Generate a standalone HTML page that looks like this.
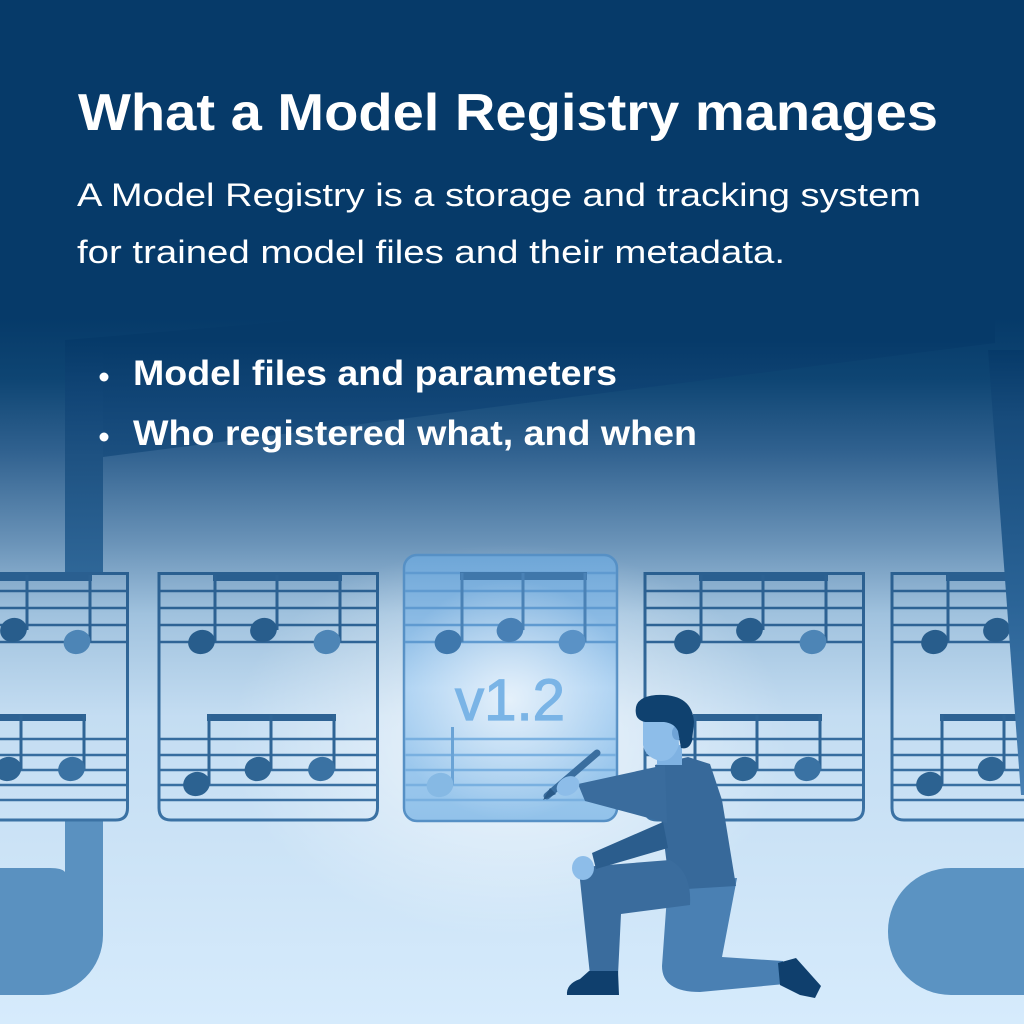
<!DOCTYPE html>
<html>
<head>
<meta charset="utf-8">
<style>
html,body{margin:0;padding:0;background:#063a69;}
svg{display:block;}
</style>
</head>
<body>
<svg width="1024" height="1024" viewBox="0 0 1024 1024" xmlns="http://www.w3.org/2000/svg">
<defs>
  <linearGradient id="bg" x1="0" y1="0" x2="0" y2="1024" gradientUnits="userSpaceOnUse">
    <stop offset="0" stop-color="#063a69"/>
    <stop offset="0.31" stop-color="#063a69"/>
    <stop offset="0.37" stop-color="#0e4573"/>
    <stop offset="0.44" stop-color="#30618f"/>
    <stop offset="0.53" stop-color="#6a93b8"/>
    <stop offset="0.60" stop-color="#a0c2de"/>
    <stop offset="0.70" stop-color="#c4ddf2"/>
    <stop offset="1" stop-color="#d6ebfc"/>
  </linearGradient>
  <radialGradient id="glow" cx="510" cy="740" r="280" gradientUnits="userSpaceOnUse" gradientTransform="translate(510 740) scale(1 0.7) translate(-510 -740)">
    <stop offset="0" stop-color="#ffffff" stop-opacity="0.75"/>
    <stop offset="0.5" stop-color="#ffffff" stop-opacity="0.35"/>
    <stop offset="1" stop-color="#ffffff" stop-opacity="0"/>
  </radialGradient>
  <linearGradient id="beam" x1="0" y1="340" x2="0" y2="470" gradientUnits="userSpaceOnUse">
    <stop offset="0" stop-color="#063a69"/>
    <stop offset="0.5" stop-color="#124677"/>
    <stop offset="1" stop-color="#1e5282"/>
  </linearGradient>
  <linearGradient id="stemL" x1="0" y1="340" x2="0" y2="575" gradientUnits="userSpaceOnUse">
    <stop offset="0" stop-color="#063a69"/>
    <stop offset="0.25" stop-color="#124677"/>
    <stop offset="0.5" stop-color="#1e5282"/>
    <stop offset="1" stop-color="#2f6798"/>
  </linearGradient>
  <linearGradient id="stemR" x1="0" y1="350" x2="0" y2="800" gradientUnits="userSpaceOnUse">
    <stop offset="0" stop-color="#063a69"/>
    <stop offset="0.15" stop-color="#174b7b"/>
    <stop offset="0.55" stop-color="#2a6396"/>
    <stop offset="1" stop-color="#4a82b5"/>
  </linearGradient>
  <linearGradient id="lg" x1="0" y1="570" x2="0" y2="822" gradientUnits="userSpaceOnUse">
    <stop offset="0" stop-color="#2a5f90"/>
    <stop offset="1" stop-color="#3b72a4"/>
  </linearGradient>
  <linearGradient id="cfill" x1="0" y1="555" x2="0" y2="821" gradientUnits="userSpaceOnUse">
    <stop offset="0" stop-color="#6ea6d7"/>
    <stop offset="0.5" stop-color="#a9d0f2"/>
    <stop offset="1" stop-color="#92c2ea"/>
  </linearGradient>
  <radialGradient id="cglow" cx="510" cy="700" r="120" gradientUnits="userSpaceOnUse">
    <stop offset="0" stop-color="#ffffff" stop-opacity="0.7"/>
    <stop offset="1" stop-color="#ffffff" stop-opacity="0"/>
  </radialGradient>

  <g id="card">
    <path d="M159,573.5 H377.5 V808 Q377.5 820 365.5 820 H171 Q159 820 159 808 Z" fill="none" stroke="url(#lg)" stroke-width="3"/>
    <g stroke="url(#lg)" stroke-width="2.6">
      <line x1="159" y1="591" x2="377.5" y2="591"/>
      <line x1="159" y1="608" x2="377.5" y2="608"/>
      <line x1="159" y1="625" x2="377.5" y2="625"/>
      <line x1="159" y1="642" x2="377.5" y2="642"/>
      <line x1="159" y1="739" x2="377.5" y2="739"/>
      <line x1="159" y1="755" x2="377.5" y2="755"/>
      <line x1="159" y1="770" x2="377.5" y2="770"/>
      <line x1="159" y1="785" x2="377.5" y2="785"/>
      <line x1="159" y1="800" x2="377.5" y2="800"/>
    </g>
    <rect x="213" y="574" width="129" height="7" fill="#2a5f90"/>
    <g stroke="#2c6192" stroke-width="3">
      <line x1="215" y1="575" x2="215" y2="642"/>
      <line x1="277" y1="575" x2="277" y2="630"/>
      <line x1="340" y1="575" x2="340" y2="642"/>
    </g>
    <ellipse cx="201.5" cy="642" rx="13.5" ry="12" fill="#285d8c" transform="rotate(-18 201.5 642)"/>
    <ellipse cx="263.5" cy="630" rx="13.5" ry="12" fill="#285d8c" transform="rotate(-18 263.5 630)"/>
    <ellipse cx="327" cy="642" rx="13.5" ry="12" fill="#4d85b6" transform="rotate(-18 327 642)"/>
    <rect x="207" y="714" width="129" height="7" fill="#2d6293"/>
    <g stroke="#2f6596" stroke-width="3">
      <line x1="209" y1="715" x2="209" y2="784"/>
      <line x1="271" y1="715" x2="271" y2="769"/>
      <line x1="334" y1="715" x2="334" y2="769"/>
    </g>
    <ellipse cx="196.5" cy="784" rx="13.5" ry="12" fill="#2c6291" transform="rotate(-18 196.5 784)"/>
    <ellipse cx="258" cy="769" rx="13.5" ry="12" fill="#2f6594" transform="rotate(-18 258 769)"/>
    <ellipse cx="321.5" cy="769" rx="13.5" ry="12" fill="#3a72a3" transform="rotate(-18 321.5 769)"/>
  </g>
</defs>

<!-- background -->
<rect x="0" y="0" width="1024" height="1024" fill="url(#bg)"/>
<rect x="0" y="0" width="1024" height="1024" fill="url(#glow)"/>

<!-- big background note: beam and stems -->
<polygon points="65,340 995,262 995,343 103,457 65,457" fill="url(#beam)"/>
<rect x="65" y="340" width="38" height="235" fill="url(#stemL)"/>
<path d="M-10,868 H50 Q62,868 65,872 V820 H103 V935 A60 60 0 0 1 43,995 H-10 Z" fill="#5a91c0"/>

<!-- cards -->
<use href="#card" transform="translate(-250 0)"/>
<use href="#card"/>
<use href="#card" transform="translate(486 0)"/>
<use href="#card" transform="translate(733 0)"/>

<!-- right stem & head -->
<polygon points="988,350 1024,350 1024,795 1021,795" fill="url(#stemR)"/>
<rect x="888" y="868" width="220" height="127" rx="63" ry="63" fill="#5b93c2"/>

<!-- center highlighted card -->
<rect x="404" y="555" width="213" height="266" rx="13" ry="13" fill="url(#cfill)" stroke="#5690c5" stroke-width="2.5"/>
<rect x="404" y="555" width="213" height="266" rx="13" ry="13" fill="url(#cglow)"/>
<g stroke="#5f9ad0" stroke-width="2.5">
  <line x1="405" y1="573" x2="616" y2="573"/>
  <line x1="405" y1="591" x2="616" y2="591"/>
  <line x1="405" y1="608" x2="616" y2="608"/>
  <line x1="405" y1="625" x2="616" y2="625"/>
  <line x1="405" y1="642" x2="616" y2="642"/>
</g>
<g stroke="#79b0e0" stroke-width="2.5">
  <line x1="405" y1="739" x2="616" y2="739"/>
  <line x1="405" y1="755" x2="616" y2="755"/>
  <line x1="405" y1="770" x2="616" y2="770"/>
  <line x1="405" y1="785" x2="616" y2="785"/>
  <line x1="405" y1="800" x2="616" y2="800"/>
</g>
<rect x="460" y="572" width="127" height="8" fill="#4077aa"/>
<g stroke="#4a82b6" stroke-width="3">
  <line x1="462" y1="573" x2="462" y2="642"/>
  <line x1="523" y1="573" x2="523" y2="630"/>
  <line x1="585" y1="573" x2="585" y2="642"/>
</g>
<ellipse cx="448" cy="642" rx="13.5" ry="12" fill="#3f78ad" transform="rotate(-18 448 642)"/>
<ellipse cx="510" cy="630" rx="13.5" ry="12" fill="#4880b5" transform="rotate(-18 510 630)"/>
<ellipse cx="572" cy="642" rx="13.5" ry="12" fill="#5a92c6" transform="rotate(-18 572 642)"/>
<line x1="452.5" y1="727" x2="452.5" y2="785" stroke="#6aa3d6" stroke-width="3"/>
<ellipse cx="440" cy="785" rx="13.5" ry="12" fill="#86b9e4" transform="rotate(-18 440 785)"/>
<text x="455" y="720" font-family="Liberation Sans, sans-serif" font-size="58" fill="#7ab4e6" stroke="#7ab4e6" stroke-width="1.2" textLength="110" lengthAdjust="spacingAndGlyphs">v1.2</text>

<!-- person -->
<!-- back leg (kneeling) -->
<path d="M668,882 L737,878 L722,957 L783,961 L785,984 L700,992 Q662,992 662,966 Z" fill="#4a80b3"/>
<!-- back foot -->
<path d="M778,963 L796,958 L821,986 L815,998 L800,995 L780,985 Z" fill="#0f3f6d"/>
<!-- torso -->
<path d="M655,765 L688,757 L710,764 L722,800 L736,886 L670,890 L662,825 Z" fill="#37699a"/>
<!-- front leg thigh + shin -->
<path d="M580,880 Q582,868 595,866 L670,860 Q692,872 690,905 L621,914 L618,975 L590,975 Z" fill="#3a6c9d"/>
<!-- front shoe -->
<path d="M589,971 L618,971 L619,995 L567,995 Q566,984 580,979 Z" fill="#0f3f6d"/>
<!-- lower arm onto knee -->
<path d="M663,822 L592,853 L596,869 L668,848 Z" fill="#2b5d8d"/>
<ellipse cx="583" cy="868" rx="11" ry="12" fill="#8dbde9"/>
<!-- neck -->
<rect x="657" y="745" width="25" height="20" fill="#7fb2e2"/>
<!-- raised arm -->
<path d="M665,765 L578,784 L585,801 L667,823 Z" fill="#3a6c9d"/>
<!-- pen -->
<line x1="547" y1="796" x2="597" y2="753" stroke="#3a6e9f" stroke-width="7" stroke-linecap="round"/>
<path d="M543,800 L550,788 L556,794 Z" fill="#2a5a88"/>
<!-- hand -->
<ellipse cx="568" cy="786" rx="12" ry="9" fill="#8dbde9" transform="rotate(-30 568 786)"/>
<!-- face -->
<path d="M643,714 L677,714 L679,745 Q673,762 660,761 Q645,757 643,745 Z" fill="#8dbde9"/>
<ellipse cx="677" cy="733" rx="5" ry="7" fill="#6fa3d6"/>
<!-- hair -->
<path d="M636,714 Q633,697 656,695 Q692,693 694,722 L692,741 Q689,750 681,748 L678,731 Q674,723 664,722 L645,722 Q637,720 636,714 Z" fill="#0f416f"/>

<!-- text -->
<text x="78" y="130" font-family="Liberation Sans, sans-serif" font-size="52" font-weight="bold" fill="#ffffff" textLength="860" lengthAdjust="spacingAndGlyphs">What a Model Registry manages</text>
<text x="77" y="206" font-family="Liberation Sans, sans-serif" font-size="32" fill="#ffffff" textLength="844" lengthAdjust="spacingAndGlyphs">A Model Registry is a storage and tracking system</text>
<text x="77" y="263" font-family="Liberation Sans, sans-serif" font-size="32" fill="#ffffff" textLength="708" lengthAdjust="spacingAndGlyphs">for trained model files and their metadata.</text>
<circle cx="104" cy="377" r="4.5" fill="#ffffff"/>
<circle cx="104" cy="437" r="4.5" fill="#ffffff"/>
<text x="133" y="385" font-family="Liberation Sans, sans-serif" font-size="35" font-weight="bold" fill="#ffffff" textLength="484" lengthAdjust="spacingAndGlyphs">Model files and parameters</text>
<text x="133" y="445" font-family="Liberation Sans, sans-serif" font-size="35" font-weight="bold" fill="#ffffff" textLength="564" lengthAdjust="spacingAndGlyphs">Who registered what, and when</text>
</svg>
</body>
</html>
